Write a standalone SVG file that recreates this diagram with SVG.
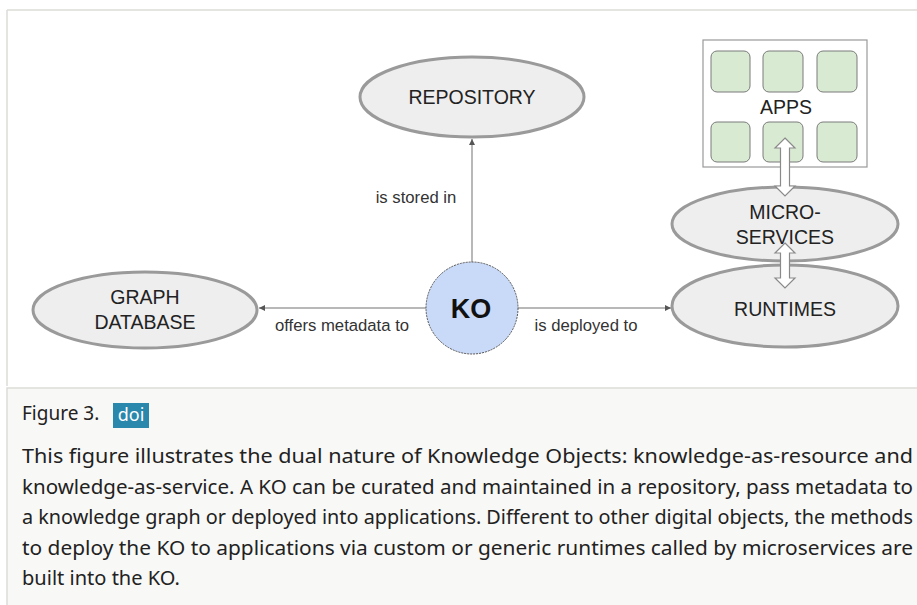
<svg xmlns="http://www.w3.org/2000/svg" width="917" height="605" viewBox="0 0 917 605">
<defs>
<style>
.ell{fill:#eeeeee;stroke:#9a9a9a;stroke-width:3}
.lbl{font-family:"Liberation Sans",Arial,sans-serif;font-size:19.5px;fill:#222;text-anchor:middle}
.elbl{font-family:"Liberation Sans",Arial,sans-serif;font-size:16.7px;fill:#333;text-anchor:middle}
.conn{stroke:#a0a0a0;stroke-width:1.5;fill:none}
.app{fill:#d9ead3;stroke:#7a7a7a;stroke-width:1}
.dbl{fill:#ffffff;stroke:#8a8a8a;stroke-width:1.2}
.cap{font-family:"Noto Sans","Open Sans",sans-serif;font-size:19px;fill:#222}
</style>
<marker id="ah" viewBox="0 0 10 10" refX="10" refY="5" markerWidth="6" markerHeight="6" orient="auto-start-reverse" markerUnits="userSpaceOnUse">
<path d="M0,0 L10,5 L0,10 z" fill="#555"/>
</marker>
</defs>
<rect x="0" y="0" width="917" height="605" fill="#ffffff"/>
<g id="frame">
<path d="M7,10 H917 M7,10 V386" stroke="#dcdcd8" stroke-width="1.5" fill="none"/>
<rect x="7" y="388" width="912" height="220" fill="#f8f8f6" stroke="#dcdcd8" stroke-width="1.5"/>
</g>
<g id="connectors">
<line class="conn" x1="472" y1="262" x2="472" y2="139" marker-end="url(#ah)"/>
<line class="conn" x1="427" y1="308" x2="259" y2="308" marker-end="url(#ah)"/>
<line class="conn" x1="518" y1="308" x2="671" y2="308" marker-end="url(#ah)"/>
<text class="elbl" x="416" y="203">is stored in</text>
<text class="elbl" x="342" y="331">offers metadata to</text>
<text class="elbl" x="586" y="331">is deployed to</text>
</g>
<g id="repository">
<ellipse class="ell" cx="472" cy="97" rx="112" ry="40"/>
<text class="lbl" x="472" y="104">REPOSITORY</text>
</g>
<g id="graphdb">
<ellipse class="ell" cx="145" cy="310" rx="112" ry="38"/>
<text class="lbl" x="145" y="304">GRAPH</text>
<text class="lbl" x="145" y="329">DATABASE</text>
</g>
<g id="ko">
<circle cx="472" cy="308" r="46" fill="#c9daf8" stroke="#555" stroke-width="1" stroke-dasharray="2 1"/>
<text x="471" y="318" font-family="'Liberation Sans',Arial,sans-serif" font-size="27" font-weight="bold" fill="#111" text-anchor="middle">KO</text>
</g>
<g id="apps">
<rect x="703" y="40" width="164" height="127" fill="#ffffff" stroke="#999" stroke-width="1.2"/>
<rect class="app" x="711" y="51" width="39" height="41" rx="6"/>
<rect class="app" x="763" y="51" width="40" height="41" rx="6"/>
<rect class="app" x="817" y="51" width="40" height="41" rx="6"/>
<rect class="app" x="711" y="122" width="39" height="40" rx="6"/>
<rect class="app" x="763" y="122" width="40" height="40" rx="6"/>
<rect class="app" x="817" y="122" width="40" height="40" rx="6"/>
<text class="lbl" x="786" y="114">APPS</text>
</g>
<g id="microservices">
<ellipse class="ell" cx="785" cy="224" rx="113" ry="37"/>
<text class="lbl" x="785" y="219">MICRO-</text>
<text class="lbl" x="785" y="244">SERVICES</text>
</g>
<g id="runtimes">
<ellipse class="ell" cx="785" cy="306" rx="113" ry="41"/>
<text class="lbl" x="785" y="316">RUNTIMES</text>
</g>
<g id="double-arrows">
<polygon class="dbl" points="785,138 795,148 789.5,148 789.5,186 795,186 785,196 775,186 780.5,186 780.5,148 775,148"/>
<polygon class="dbl" points="785,243 795,253 789.5,253 789.5,278 795,278 785,288 775,278 780.5,278 780.5,253 775,253"/>
</g>
<g id="caption">
<text class="cap" x="22" y="420">Figure 3.</text>
<rect x="113" y="403" width="36" height="25" fill="#2a88ad"/>
<text x="131" y="421" font-family="'Noto Sans','Open Sans',sans-serif" font-size="18" fill="#ffffff" text-anchor="middle">doi</text>
<text class="cap" x="22" y="463" textLength="891" lengthAdjust="spacingAndGlyphs">This figure illustrates the dual nature of Knowledge Objects: knowledge-as-resource and</text>
<text class="cap" x="22" y="494" textLength="891" lengthAdjust="spacingAndGlyphs">knowledge-as-service. A KO can be curated and maintained in a repository, pass metadata to</text>
<text class="cap" x="22" y="524" textLength="891" lengthAdjust="spacingAndGlyphs">a knowledge graph or deployed into applications. Different to other digital objects, the methods</text>
<text class="cap" x="22" y="555" textLength="891" lengthAdjust="spacingAndGlyphs">to deploy the KO to applications via custom or generic runtimes called by microservices are</text>
<text class="cap" x="22" y="585" textLength="158" lengthAdjust="spacingAndGlyphs">built into the KO.</text>
</g>
</svg>
